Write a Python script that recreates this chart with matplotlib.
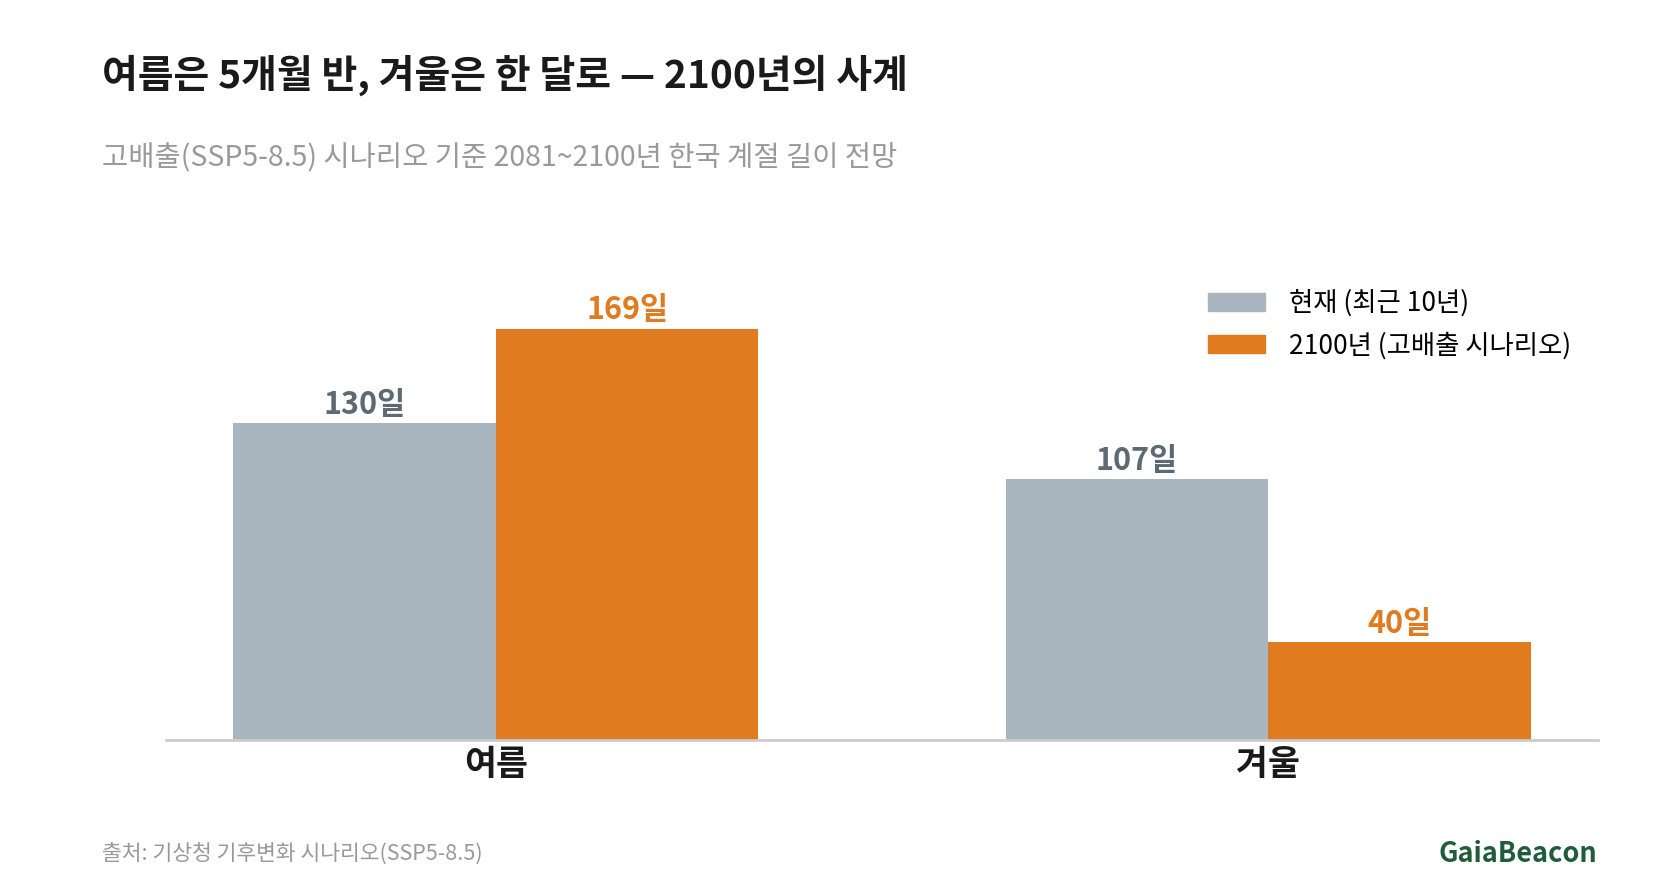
import numpy as np
import matplotlib
matplotlib.use("Agg")
from matplotlib import pyplot as plt
from matplotlib.patches import Patch

plt.rcParams['font.family'] = ['Noto Sans CJK KR', 'DejaVu Sans']

seasons = ['여름', '겨울']
now_days = [130, 107]
future_days = [169, 40]
series_names = ['현재 (최근 10년)', '2100년 (고배출 시나리오)']

gray = '#a9b6bf'
orange = '#e07b1f'
label_gray = '#5d6a74'

fig = plt.figure(figsize=(16.8, 8.8), dpi=100)
ax = fig.add_axes([0.099, 0.1595, 0.852, 0.557])

x = np.arange(len(seasons))
w = 0.34
b1 = ax.bar(x - w / 2, now_days, w, color=gray)
b2 = ax.bar(x + w / 2, future_days, w, color=orange)

for bars, vals, col in [(b1, now_days, label_gray), (b2, future_days, orange)]:
    for r, v in zip(bars, vals):
        ax.annotate(f'{v}일', (r.get_x() + r.get_width() / 2, v),
                    xytext=(0, 2), textcoords='offset points',
                    ha='center', va='bottom', fontsize=22, fontweight='bold', color=col)

ax.set_xlim(-0.427, 1.427)
ax.set_ylim(0, 201.5)
ax.set_xticks(x)
ax.set_xticklabels(seasons, fontsize=25, fontweight='bold', color='#1a1a1a')
ax.tick_params(axis='x', length=0, pad=5)
ax.set_yticks([])
for s in ['top', 'right', 'left']:
    ax.spines[s].set_visible(False)
ax.spines['bottom'].set_color('#cccccc')
ax.spines['bottom'].set_linewidth(2)

handles = [Patch(color=gray), Patch(color=orange)]
fig.legend(handles, series_names, loc='upper left', bbox_to_anchor=(0.705, 0.698),
           frameon=False, fontsize=19, handlelength=2.15, handleheight=0.68,
           handletextpad=0.9, labelspacing=0.58)

fig.text(0.061, 0.915, '여름은 5개월 반, 겨울은 한 달로 — 2100년의 사계',
         fontsize=28, fontweight='bold', color='#1a1a1a', va='center')
fig.text(0.061, 0.820, '고배출(SSP5-8.5) 시나리오 기준 2081~2100년 한국 계절 길이 전망',
         fontsize=20.5, color='#999999', va='center')
fig.text(0.061, 0.030, '출처: 기상청 기후변화 시나리오(SSP5-8.5)',
         fontsize=15.5, color='#999999', va='center')
fig.text(0.951, 0.030, 'GaiaBeacon', fontsize=19.5, fontweight='bold',
         color='#1f5c3a', va='center', ha='right')

fig.savefig('out.png', dpi=100, facecolor='white')
